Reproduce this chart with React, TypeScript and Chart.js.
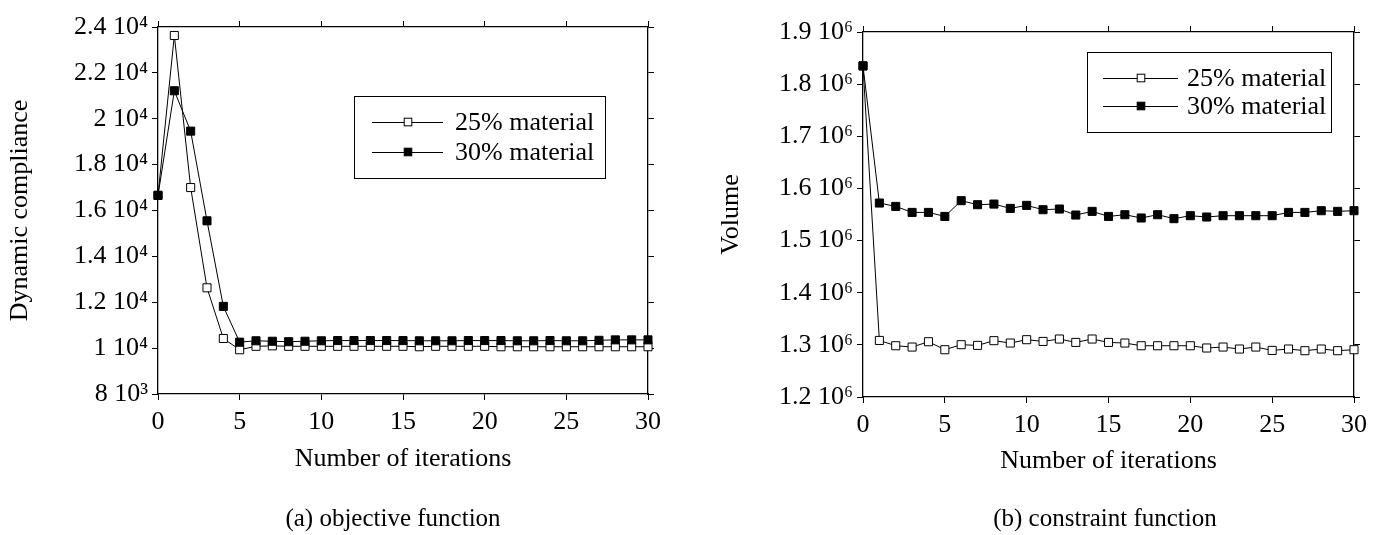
import React, { useEffect, useRef } from "react";
import { Chart, registerables } from "chart.js";

Chart.register(...registerables);

const FONT = "'Liberation Serif', 'Times New Roman', serif";

// ---------- data ----------
const iterations = [0, 1, 2, 3, 4, 5, 6, 7, 8, 9, 10, 11, 12, 13, 14, 15, 16, 17, 18, 19, 20, 21, 22, 23, 24, 25, 26, 27, 28, 29, 30];
const seriesLabels = ["25% material", "30% material"];

const compliance25 = [16660, 23630, 17000, 12630, 10420, 9930, 10080, 10100, 10080, 10080, 10080, 10080, 10080, 10080, 10080, 10080, 10060, 10080, 10080, 10080, 10080, 10060, 10060, 10060, 10060, 10060, 10060, 10060, 10060, 10060, 10060];
const compliance30 = [16660, 21220, 19460, 15550, 11820, 10260, 10320, 10300, 10280, 10300, 10320, 10330, 10330, 10330, 10330, 10330, 10320, 10320, 10320, 10330, 10330, 10330, 10320, 10320, 10330, 10320, 10320, 10340, 10360, 10360, 10360];

const volume25 = [1835000, 1308500, 1298300, 1295800, 1306000, 1290700, 1300300, 1299000, 1308000, 1303500, 1309900, 1306600, 1311200, 1304700, 1311200, 1304700, 1303500, 1298300, 1298300, 1298300, 1298300, 1294000, 1295800, 1292000, 1295800, 1289300, 1292000, 1288800, 1292000, 1288800, 1290700];
const volume30 = [1835000, 1572000, 1565500, 1554000, 1554000, 1546300, 1576500, 1568800, 1570000, 1561700, 1567500, 1559200, 1560500, 1549000, 1556000, 1546300, 1549600, 1543300, 1549600, 1542000, 1547700, 1545200, 1547700, 1547700, 1547700, 1547700, 1554000, 1554000, 1557300, 1556000, 1557300];

const xTicks = [0, 5, 10, 15, 20, 25, 30];
const complianceTicks = [8000, 10000, 12000, 14000, 16000, 18000, 20000, 22000, 24000];
const complianceTickLabels = ["8 10\u00B3", "1 10\u2074", "1.2 10\u2074", "1.4 10\u2074", "1.6 10\u2074", "1.8 10\u2074", "2 10\u2074", "2.2 10\u2074", "2.4 10\u2074"];
const volumeTicks = [1200000, 1300000, 1400000, 1500000, 1600000, 1700000, 1800000, 1900000];
const volumeTickLabels = ["1.2 10\u2076", "1.3 10\u2076", "1.4 10\u2076", "1.5 10\u2076", "1.6 10\u2076", "1.7 10\u2076", "1.8 10\u2076", "1.9 10\u2076"];

const xTitle = "Number of iterations";
const leftYTitle = "Dynamic compliance";
const rightYTitle = "Volume";
const captions = ["(a) objective function", "(b) constraint function"];

// ---------- helpers ----------
const toPoints = (ys: number[]) => iterations.map((x, i) => ({ x, y: ys[i] }));

const datasetStyle = (filled: boolean) => ({
  borderColor: "#000",
  borderWidth: 1,
  pointStyle: "rect" as const,
  pointRadius: 5.7,
  pointHoverRadius: 5.7,
  pointBackgroundColor: filled ? "#000" : "#fff",
  pointBorderColor: "#000",
  pointBorderWidth: 1,
  tension: 0,
  fill: false,
  clip: false as const,
  order: filled ? 1 : 2,
});

const boxLegendPlugin = {
  id: "boxLegend",
  afterDraw(chart: any, _args: any, opts: any) {
    const ctx = chart.ctx;
    const [l, t, r, b] = opts.box;
    ctx.save();
    ctx.fillStyle = "#fff";
    ctx.fillRect(l, t, r - l, b - t);
    ctx.strokeStyle = "#000";
    ctx.lineWidth = 1;
    ctx.strokeRect(l + 0.5, t + 0.5, r - l, b - t);
    chart.data.datasets.forEach((ds: any, i: number) => {
      const y = opts.rows[i];
      ctx.beginPath();
      ctx.moveTo(opts.lineFrom, y + 0.5);
      ctx.lineTo(opts.lineTo, y + 0.5);
      ctx.strokeStyle = "#000";
      ctx.lineWidth = 1;
      ctx.stroke();
      const s = 7.6;
      ctx.fillStyle = ds.pointBackgroundColor;
      ctx.fillRect(opts.markerX - s / 2, y - s / 2, s, s);
      ctx.strokeRect(opts.markerX - s / 2, y - s / 2, s, s);
      ctx.fillStyle = "#000";
      ctx.font = `${opts.fontSize}px ${FONT}`;
      ctx.textBaseline = "middle";
      ctx.textAlign = "left";
      ctx.fillText(ds.label, opts.textX, y + 1);
    });
    ctx.restore();
  },
};

type Cfg = {
  s25: number[];
  s30: number[];
  yTicks: number[];
  yLabels: string[];
  yTitle: string;
  yTitlePad: number;
  xTitlePad: number;
  area: { left: number; right: number; top: number; bottom: number };
  width: number;
  height: number;
  legend: any;
};

function makeConfig(c: Cfg): any {
  const axisCommon = {
    type: "linear",
    grid: { drawOnChartArea: false, drawTicks: true, tickLength: 6, color: "#000", tickColor: "#000", lineWidth: 1 },
    border: { display: true, color: "#000", width: 1.3 },
  };
  return {
    type: "line",
    data: {
      datasets: [
        { label: seriesLabels[0], data: toPoints(c.s25), ...datasetStyle(false) },
        { label: seriesLabels[1], data: toPoints(c.s30), ...datasetStyle(true) },
      ],
    },
    plugins: [boxLegendPlugin],
    options: {
      animation: false,
      responsive: false,
      devicePixelRatio: 1,
      events: [],
      layout: { padding: 0 },
      plugins: {
        legend: { display: false },
        tooltip: { enabled: false },
        title: { display: false },
        boxLegend: c.legend,
      },
      scales: {
        x: {
          ...axisCommon,
          position: "bottom",
          min: xTicks[0],
          max: xTicks[xTicks.length - 1],
          afterBuildTicks: (s: any) => { s.ticks = xTicks.map((v) => ({ value: v })); },
          ticks: { font: { size: 26, family: FONT }, color: "#000", padding: 7, maxRotation: 0 },
          title: { display: true, text: xTitle, font: { size: 26, family: FONT }, color: "#000", padding: { top: 0, bottom: c.xTitlePad } },
          afterFit: (s: any) => { s.height = c.height - c.area.bottom; },
        },
        xTop: {
          ...axisCommon,
          position: "top",
          min: xTicks[0],
          max: xTicks[xTicks.length - 1],
          afterBuildTicks: (s: any) => { s.ticks = xTicks.map((v) => ({ value: v })); },
          ticks: { display: false },
          afterFit: (s: any) => { s.height = c.area.top; },
        },
        y: {
          ...axisCommon,
          position: "left",
          min: c.yTicks[0],
          max: c.yTicks[c.yTicks.length - 1],
          afterBuildTicks: (s: any) => { s.ticks = c.yTicks.map((v) => ({ value: v })); },
          ticks: {
            font: { size: 26, family: FONT },
            color: "#000",
            padding: 4,
            callback: (_v: any, i: number) => c.yLabels[i],
          },
          title: { display: true, text: c.yTitle, font: { size: 26, family: FONT }, color: "#000", padding: { top: c.yTitlePad, bottom: 0 } },
          afterFit: (s: any) => { s.width = c.area.left; },
        },
        yRight: {
          ...axisCommon,
          position: "right",
          min: c.yTicks[0],
          max: c.yTicks[c.yTicks.length - 1],
          afterBuildTicks: (s: any) => { s.ticks = c.yTicks.map((v) => ({ value: v })); },
          ticks: { display: false },
          afterFit: (s: any) => { s.width = c.width - c.area.right; },
        },
      },
    },
  };
}

function ChartCanvas({ cfg }: { cfg: Cfg }) {
  const ref = useRef<HTMLCanvasElement | null>(null);
  useEffect(() => {
    if (!ref.current) return;
    const chart = new Chart(ref.current, makeConfig(cfg));
    return () => chart.destroy();
  }, []);
  return <canvas ref={ref} width={cfg.width} height={cfg.height} style={{ display: "block", width: cfg.width, height: cfg.height }} />;
}

const leftCfg: Cfg = {
  s25: compliance25,
  s30: compliance30,
  yTicks: complianceTicks,
  yLabels: complianceTickLabels,
  yTitle: leftYTitle,
  yTitlePad: 5,
  xTitlePad: 60,
  area: { left: 158, right: 648, top: 27, bottom: 394 },
  width: 690,
  height: 535,
  legend: { box: [354, 96, 605, 178], rows: [122, 152], lineFrom: 372, lineTo: 443, markerX: 408, textX: 455, fontSize: 26 },
};

const rightCfg: Cfg = {
  s25: volume25,
  s30: volume30,
  yTicks: volumeTicks,
  yLabels: volumeTickLabels,
  yTitle: rightYTitle,
  yTitlePad: 26,
  xTitlePad: 58,
  area: { left: 173, right: 664, top: 32, bottom: 397 },
  width: 687,
  height: 535,
  legend: { box: [397, 52, 641, 132], rows: [78, 106], lineFrom: 413, lineTo: 488, markerX: 451, textX: 497, fontSize: 26 },
};

export default function App() {
  return (
    <div style={{ position: "absolute", left: 0, top: 0, width: 1377, height: 535, background: "#fff", overflow: "hidden" }}>
      <div style={{ position: "absolute", left: 0, top: 0 }}>
        <ChartCanvas cfg={leftCfg} />
      </div>
      <div style={{ position: "absolute", left: 690, top: 0 }}>
        <ChartCanvas cfg={rightCfg} />
      </div>
      <div style={{ position: "absolute", left: 193, top: 504, width: 400, textAlign: "center", font: `25px ${FONT}`, lineHeight: "28px", color: "#000" }}>
        {captions[0]}
      </div>
      <div style={{ position: "absolute", left: 905, top: 504, width: 400, textAlign: "center", font: `25px ${FONT}`, lineHeight: "28px", color: "#000" }}>
        {captions[1]}
      </div>
    </div>
  );
}
